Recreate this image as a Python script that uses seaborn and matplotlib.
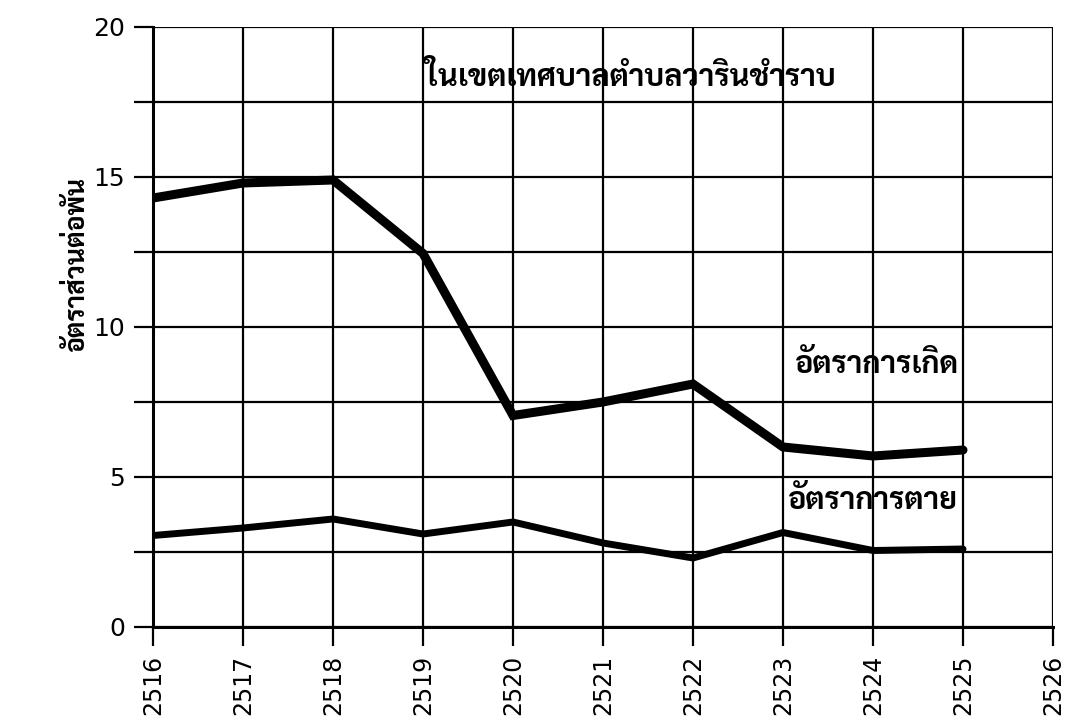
import matplotlib
matplotlib.use("Agg")
import matplotlib.pyplot as plt
from matplotlib import font_manager as fm
import pandas as pd
import seaborn as sns

# ปี พ.ศ. และอัตราต่อพัน (อ่านจากภาพ)
years = [2516, 2517, 2518, 2519, 2520, 2521, 2522, 2523, 2524, 2525]
birth_rate = [14.3, 14.8, 14.9, 12.45, 7.05, 7.5, 8.1, 6.0, 5.7, 5.9]
death_rate = [3.05, 3.3, 3.6, 3.1, 3.5, 2.8, 2.3, 3.15, 2.55, 2.6]
x_ticks = list(range(2516, 2527))
y_ticks = [0, 5, 10, 15, 20]

title = "ในเขตเทศบาลตำบลวารินชำราบ"
ylabel = "อัตราส่วนต่อพัน"
birth_label = "อัตราการเกิด"
death_label = "อัตราการตาย"


def pick_font(names):
    for n in names:
        try:
            fm.findfont(fm.FontProperties(family=n), fallback_to_default=False)
            return n
        except Exception:
            continue
    return "DejaVu Sans"


thai = pick_font(["Sarabun", "Noto Sans Thai Looped", "Noto Sans Thai",
                  "Athiti", "Bai Jamjuree"])

sns.set_theme(style="white")
plt.rcParams["font.family"] = [thai, "DejaVu Sans"]

df = pd.DataFrame({"year": years + years,
                   "rate": birth_rate + death_rate,
                   "kind": ["birth"] * len(years) + ["death"] * len(years)})

fig = plt.figure(figsize=(10.79, 7.21), dpi=100)
ax = fig.add_axes([153 / 1079, 94 / 721, 900 / 1079, 600 / 721])

sns.lineplot(data=df[df.kind == "birth"], x="year", y="rate", color="black",
             lw=6.5, ax=ax, solid_joinstyle="miter", zorder=3)
sns.lineplot(data=df[df.kind == "death"], x="year", y="rate", color="black",
             lw=5, ax=ax, solid_joinstyle="miter", zorder=3)

ax.set_xlim(2516, 2526)
ax.set_ylim(0, 20)
ax.set_xticks(x_ticks)
ax.set_yticks([i * 2.5 for i in range(9)])
ax.set_yticklabels([str(int(v)) if v in y_ticks else "" for v in ax.get_yticks()])
ax.set_xticklabels([str(y) for y in x_ticks], rotation=90, fontsize=17,
                   family="DejaVu Sans")
for t in ax.get_yticklabels():
    t.set_fontsize(18)
    t.set_family("DejaVu Sans")

ax.grid(True, color="black", lw=1.6)
ax.tick_params(axis="both", which="major", length=14, width=1.6, color="black",
               direction="out", bottom=True, left=True, pad=6, labelcolor="black")
for side, sp in ax.spines.items():
    sp.set_visible(side in ("bottom", "left"))
    sp.set_color("black")
    sp.set_linewidth(2.2)

ax.set_xlabel("")
ax.set_ylabel(ylabel, fontsize=19, fontweight="bold", color="black")
ax.yaxis.set_label_coords(-0.07, 0.605)

ax.text(2521.3, 18.3, title, ha="center", va="center", fontsize=22,
        fontweight="bold", color="black")
ax.text(2524.05, 8.75, birth_label, ha="center", va="center", fontsize=22,
        fontweight="bold", color="black")
ax.text(2524.0, 4.2, death_label, ha="center", va="center", fontsize=22,
        fontweight="bold", color="black")

fig.savefig("out.png", dpi=100, facecolor="white")
